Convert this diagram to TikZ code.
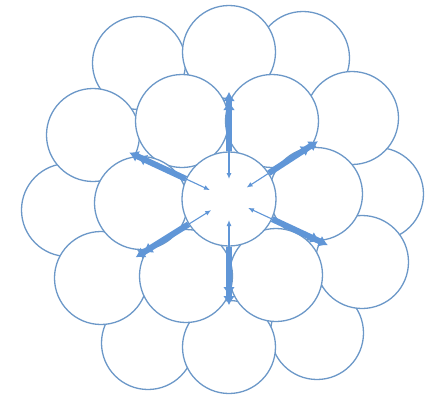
\documentclass[tikz,border=0pt]{standalone}
\usepackage{tikz}
\usetikzlibrary{arrows.meta}

\definecolor{cellblue}{RGB}{108,152,200}
\definecolor{arrblue}{RGB}{96,150,215}

\begin{document}
\begin{tikzpicture}[x=1pt,y=1pt,
  cell/.style={circle,draw=cellblue,fill=white,line width=1.3pt,
               minimum size=93pt,inner sep=0pt},
  push/.style={arrblue,line width=6pt,
               -{Latex[length=9pt,width=12pt]Latex[length=9pt,width=12pt]}},
  pull/.style={arrblue,line width=1.1pt,-{Latex[length=6pt,width=5pt]}},
]
  \useasboundingbox (-229,-198) rectangle (207,199);

  % Outer ring, back row
  \node[cell] (oa) at (-90,136) {};
  \node[cell] (od) at (74,141) {};
  \node[cell] (of) at (148,5) {};
  \node[cell] (oh) at (88,-134) {};
  \node[cell] (oj) at (-81,-144) {};
  \node[cell] (ol) at (-161,-11) {};

  % Outer ring, front row
  \node[cell] (ob) at (0,147) {};
  \node[cell] (oe) at (123,81) {};
  \node[cell] (og) at (133,-63) {};
  \node[cell] (oi) at (0,-148) {};
  \node[cell] (ok) at (-128,-79) {};
  \node[cell] (om) at (-136,64) {};

  % Inner ring
  \node[cell] (n1) at (-47,78) {};
  \node[cell] (n2) at (43,78) {};
  \node[cell] (n3) at (87,5) {};
  \node[cell] (n4) at (47,-76) {};
  \node[cell] (n5) at (-43,-77) {};
  \node[cell] (n6) at (-88,-4) {};

  % Centre cell
  \node[cell,minimum size=94pt] (c) at (0,0) {};

  % Arrow ends
  \coordinate (t1) at (90:107);
  \coordinate (t2) at (33:106);
  \coordinate (t3) at (-25:109);
  \coordinate (t4) at (-90:106);
  \coordinate (t5) at (212:110);
  \coordinate (t6) at (155:110);
  \coordinate (s1) at (90:20);
  \coordinate (s2) at (33:21);
  \coordinate (s3) at (-25:21);
  \coordinate (s4) at (-90:21);
  \coordinate (s5) at (212:21);
  \coordinate (s6) at (155:21);

  % Arrows
  \draw[push] (c.90)  -- (t1);
  \draw[push] (c.33)  -- (t2);
  \draw[push] (c.-25) -- (t3);
  \draw[push] (c.-90) -- (t4);
  \draw[push] (c.212) -- (t5);
  \draw[push] (c.155) -- (t6);
  \draw[pull] (c.90)  -- (s1);
  \draw[pull] (c.33)  -- (s2);
  \draw[pull] (c.-25) -- (s3);
  \draw[pull] (c.-90) -- (s4);
  \draw[pull] (c.212) -- (s5);
  \draw[pull] (c.155) -- (s6);
\end{tikzpicture}
\end{document}
